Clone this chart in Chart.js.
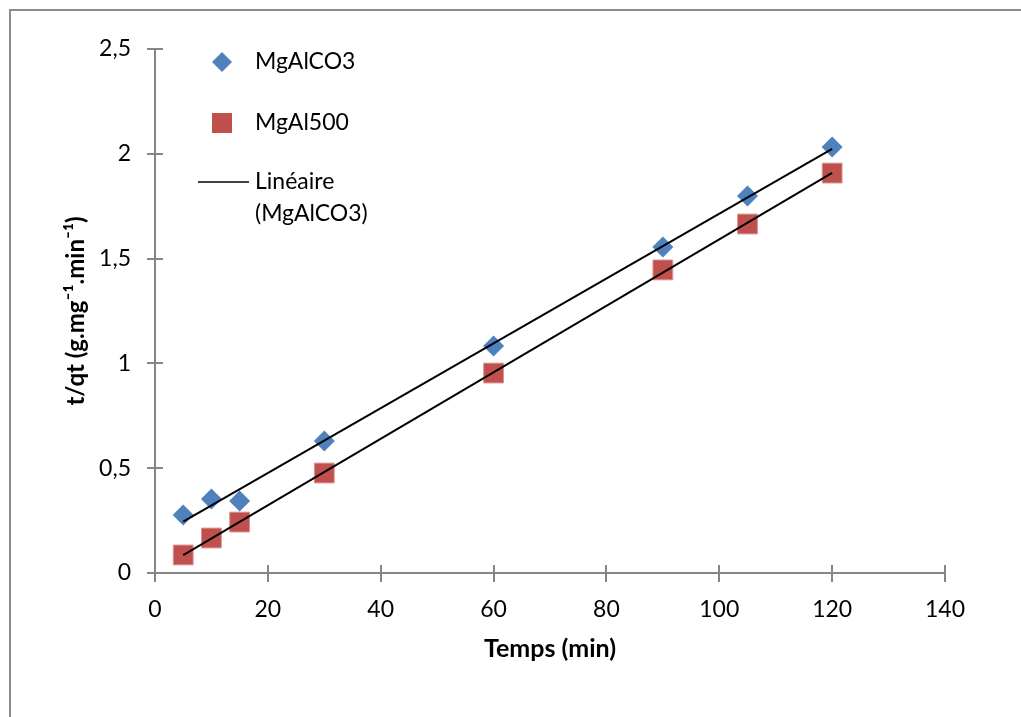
<!DOCTYPE html>
<html lang="fr">
<head>
<meta charset="UTF-8">
<title>t/qt en fonction du temps</title>
<script src="https://cdn.jsdelivr.net/npm/chart.js"></script>
<style>
  html, body { margin: 0; padding: 0; background: #fff; overflow: hidden; }
  #cadre { position: absolute; left: 9px; top: 9px; width: 1100px; height: 800px;
           border-left: 2px solid #8c8c8c; border-top: 2px solid #8c8c8c; }
  #zone { position: absolute; left: 0; top: 0; width: 1021px; height: 717px; }
</style>
</head>
<body>
<div id="cadre"></div>
<div id="zone"><canvas id="graphe" width="1021" height="717"></canvas></div>

<script>
// valeurs
const temps = [5, 10, 15, 30, 60, 90, 105, 120];
const mgalco3 = [0.277, 0.353, 0.344, 0.630, 1.083, 1.555, 1.799, 2.032];
const mgal500 = [0.086, 0.167, 0.243, 0.477, 0.954, 1.446, 1.665, 1.908];
const ticksX = [0, 20, 40, 60, 80, 100, 120, 140];
const ticksY = [0, 0.5, 1, 1.5, 2, 2.5];

const BLEU = '#4f81bd';
const ROUGE = '#c0504d';
const GRIS = '#868686';
const POLICE = 'Lato, "Open Sans", sans-serif';

// droite des moindres carrés (courbe de tendance linéaire)
function tendance(xs, ys) {
  const n = xs.length;
  const mx = xs.reduce((a, b) => a + b, 0) / n;
  const my = ys.reduce((a, b) => a + b, 0) / n;
  let sxy = 0, sxx = 0;
  for (let i = 0; i < n; i++) {
    sxy += (xs[i] - mx) * (ys[i] - my);
    sxx += (xs[i] - mx) * (xs[i] - mx);
  }
  const a = sxy / sxx, b = my - a * mx;
  const x0 = xs[0], x1 = xs[n - 1];
  return [{ x: x0, y: a * x0 + b }, { x: x1, y: a * x1 + b }];
}

const virgule = v => String(v).replace('.', ',');

// axes avec graduations qui traversent l'axe + légende dans la zone de tracé
const axesEtLegende = {
  id: 'axesEtLegende',
  beforeDatasetsDraw(chart) {
    const { ctx, chartArea: ca, scales: { x, y } } = chart;
    ctx.save();
    ctx.strokeStyle = GRIS;
    ctx.lineWidth = 2;
    ctx.beginPath();
    ctx.moveTo(ca.left, ca.top);
    ctx.lineTo(ca.left, ca.bottom);
    ctx.lineTo(ca.right, ca.bottom);
    ticksY.forEach(v => {
      const py = Math.round(y.getPixelForValue(v));
      ctx.moveTo(ca.left - 8, py);
      ctx.lineTo(ca.left + 8, py);
    });
    ticksX.forEach(v => {
      const px = Math.round(x.getPixelForValue(v));
      ctx.moveTo(px, ca.bottom - 8);
      ctx.lineTo(px, ca.bottom + 9);
    });
    ctx.stroke();
    ctx.restore();
  },
  afterDraw(chart) {
    const { ctx, chartArea: ca } = chart;
    const mx = ca.left + 67, tx = ca.left + 100;
    ctx.save();
    // losange
    let cy = ca.top + 13;
    ctx.fillStyle = BLEU;
    ctx.beginPath();
    ctx.moveTo(mx, cy - 10); ctx.lineTo(mx + 10, cy); ctx.lineTo(mx, cy + 10); ctx.lineTo(mx - 10, cy);
    ctx.closePath(); ctx.fill();
    // carré
    let cy2 = ca.top + 74;
    ctx.fillStyle = ROUGE;
    ctx.fillRect(mx - 10, cy2 - 10, 20, 20);
    // trait
    let cy3 = ca.top + 133;
    ctx.strokeStyle = '#000';
    ctx.lineWidth = 1.5;
    ctx.beginPath(); ctx.moveTo(ca.left + 43, cy3); ctx.lineTo(ca.left + 94, cy3); ctx.stroke();

    ctx.fillStyle = '#000';
    ctx.font = '23px ' + POLICE;
    ctx.textBaseline = 'middle';
    ctx.textAlign = 'left';
    ctx.fillText('MgAlCO3', tx, cy);
    ctx.fillText('MgAl500', tx, cy2);
    ctx.fillText('Linéaire', tx, cy3);
    ctx.fillText('(MgAlCO3)', tx, cy3 + 32);
    ctx.restore();
  }
};

new Chart(document.getElementById('graphe'), {
  type: 'scatter',
  data: {
    datasets: [
      {
        label: 'MgAlCO3',
        data: temps.map((t, i) => ({ x: t, y: mgalco3[i] })),
        pointStyle: 'rectRot',
        pointRadius: 10.5,
        backgroundColor: BLEU,
        borderColor: BLEU,
        borderWidth: 0,
        order: 2
      },
      {
        label: 'MgAl500',
        data: temps.map((t, i) => ({ x: t, y: mgal500[i] })),
        pointStyle: 'rect',
        pointRadius: 14,
        backgroundColor: ROUGE,
        borderColor: '#d9928f',
        borderWidth: 1,
        order: 2
      },
      {
        label: 'Linéaire (MgAlCO3)',
        type: 'line',
        data: tendance(temps, mgalco3),
        borderColor: '#000',
        borderWidth: 2,
        pointRadius: 0,
        fill: false,
        order: 1
      },
      {
        label: 'Linéaire (MgAl500)',
        type: 'line',
        data: tendance(temps, mgal500),
        borderColor: '#000',
        borderWidth: 2,
        pointRadius: 0,
        fill: false,
        order: 1
      }
    ]
  },
  options: {
    responsive: false,
    animation: false,
    layout: { padding: { left: 0, right: 76, top: 49, bottom: 0 } },
    plugins: { legend: { display: false }, tooltip: { enabled: false } },
    scales: {
      x: {
        type: 'linear',
        min: 0, max: 140,
        afterBuildTicks: s => { s.ticks = ticksX.map(v => ({ value: v })); },
        afterFit: s => { s.height = 144; },
        grid: { display: false, drawTicks: false },
        border: { display: false },
        ticks: { color: '#000', font: { family: POLICE, size: 23 }, padding: 23, maxRotation: 0 },
        title: {
          display: true, text: 'Temps (min)', color: '#000',
          font: { family: POLICE, size: 25, weight: 'bold' },
          padding: { top: 0, bottom: 53 }
        }
      },
      y: {
        min: 0, max: 2.5,
        afterBuildTicks: s => { s.ticks = ticksY.map(v => ({ value: v })); },
        afterFit: s => { s.width = 155; },
        grid: { display: false, drawTicks: false },
        border: { display: false },
        ticks: { color: '#000', font: { family: POLICE, size: 23 }, padding: 24,
                 callback: v => virgule(v) },
        title: {
          display: true, text: 't/qt (g.mg⁻¹.min⁻¹)', color: '#000',
          font: { family: POLICE, size: 24, weight: 'bold' },
          padding: { top: 62, bottom: 0 }
        }
      }
    }
  },
  plugins: [axesEtLegende]
});
</script>
</body>
</html>
